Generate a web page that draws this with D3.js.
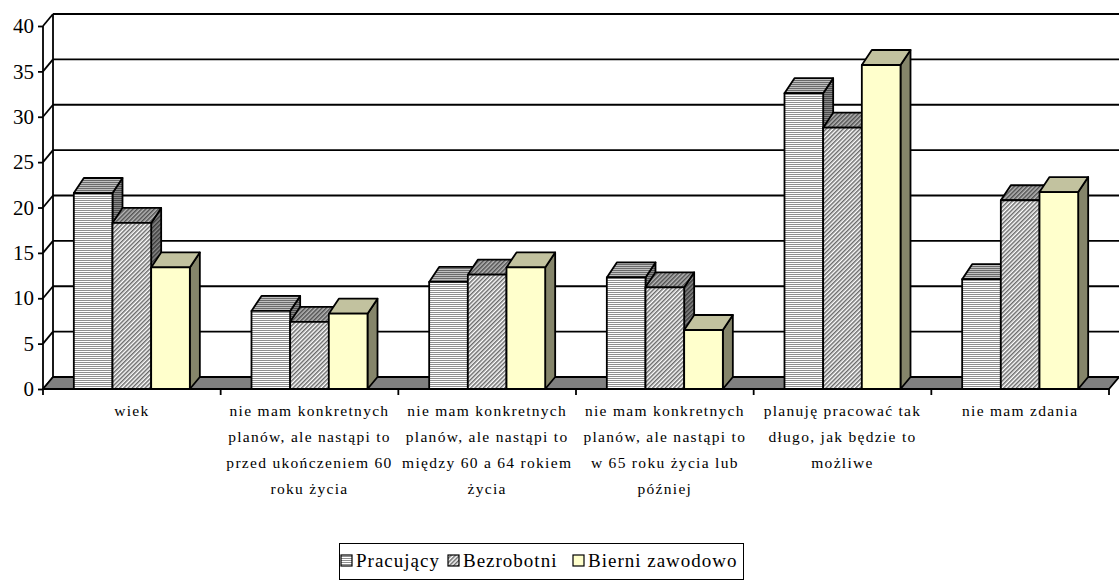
<!DOCTYPE html>
<html>
<head>
<meta charset="utf-8">
<script src="https://cdn.jsdelivr.net/npm/d3@7"></script>
<style>
  html, body { margin: 0; padding: 0; background: #fff; }
  svg { display: block; }
  svg text { font-family: "Liberation Serif", "DejaVu Serif", serif; }
</style>
</head>
<body>
<svg id="chart" width="1119" height="582"></svg>
<script>
// Category labels (explicit line breaks)
const categories = [
  "wiek",
  "nie mam konkretnych\nplanów, ale nastąpi to\nprzed ukończeniem 60\nroku życia",
  "nie mam konkretnych\nplanów, ale nastąpi to\nmiędzy 60 a 64 rokiem\nżycia",
  "nie mam konkretnych\nplanów, ale nastąpi to\nw 65 roku życia lub\npóźniej",
  "planuję pracować tak\ndługo, jak będzie to\nmożliwe",
  "nie mam zdania"
];
const seriesNames = ["Pracujący", "Bezrobotni", "Bierni zawodowo"];
const pracujacy  = [21.6, 8.6, 11.8, 12.3, 32.6, 12.1];
const bezrobotni = [18.3, 7.4, 12.6, 11.2, 28.8, 20.8];
const bierni     = [13.4, 8.3, 13.4, 6.5, 35.7, 21.7];
const yTicks = [0, 5, 10, 15, 20, 25, 30, 35, 40];

const seriesValues = [pracujacy, bezrobotni, bierni];
const serif = "'Liberation Serif', 'DejaVu Serif', serif";

const svg = d3.select("#chart");
const defs = svg.append("defs");

// Plot frame
const plotL = 43, plotR = 1109, plotB = 389, plotT = 26;
const wallDX = 10, wallDY = -12;   // depth of back wall / floor
const barDX = 10, barDY = -15;     // depth of the bars

const y = d3.scaleLinear().domain([0, 40]).range([plotB, plotT]);
const x0 = d3.scaleBand().domain(categories).range([plotL, plotR])
  .paddingInner(0.347).paddingOuter(0.1735);
const x1 = d3.scaleBand().domain(seriesNames).range([0, x0.bandwidth()]);

// ---- fill patterns ----
function stripePattern(id, bg, fg) {
  const p = defs.append("pattern").attr("id", id)
    .attr("patternUnits", "userSpaceOnUse").attr("width", 4).attr("height", 2);
  p.append("rect").attr("width", 4).attr("height", 2).attr("fill", bg);
  p.append("rect").attr("width", 4).attr("height", 1).attr("fill", fg);
}
function hatchPattern(id, bg, fg) {
  const p = defs.append("pattern").attr("id", id)
    .attr("patternUnits", "userSpaceOnUse").attr("width", 3).attr("height", 3)
    .attr("patternTransform", "rotate(45)");
  p.append("rect").attr("width", 3).attr("height", 3).attr("fill", bg);
  p.append("rect").attr("width", 1.5).attr("height", 3).attr("fill", fg);
}
stripePattern("p-front", "#ffffff", "#8f8f8f");
stripePattern("p-top", "#c0c0c0", "#6a6a6a");
stripePattern("p-side", "#8a8a8a", "#4a4a4a");
hatchPattern("b-front", "#ffffff", "#6a6a6a");
hatchPattern("b-top", "#b8b8b8", "#505050");
hatchPattern("b-side", "#8a8a8a", "#3a3a3a");

const faceFills = [
  { front: "url(#p-front)", top: "url(#p-top)", side: "url(#p-side)" },
  { front: "url(#b-front)", top: "url(#b-top)", side: "url(#b-side)" },
  { front: "#ffffcc", top: "#c2c29f", side: "#85856a" }
];

const lw = 1.8;

// ---- back wall gridlines ----
const grid = svg.append("g").attr("stroke", "#000").attr("stroke-width", lw).attr("fill", "none");
yTicks.filter(v => v > 0).forEach(v => {
  grid.append("line")
    .attr("x1", plotL + wallDX).attr("x2", 1121)
    .attr("y1", y(v) + wallDY).attr("y2", y(v) + wallDY);
});
// side wall: back axis and tick diagonals
grid.append("line")
  .attr("x1", plotL + wallDX).attr("x2", plotL + wallDX)
  .attr("y1", y(0) + wallDY).attr("y2", y(40) + wallDY);
yTicks.forEach(v => {
  grid.append("line")
    .attr("x1", plotL).attr("y1", y(v))
    .attr("x2", plotL + wallDX).attr("y2", y(v) + wallDY);
});

// ---- floor ----
svg.append("path")
  .attr("d", `M${plotL},${plotB} L${plotR},${plotB} L${plotR + wallDX},${plotB + wallDY} L${plotL + wallDX},${plotB + wallDY} Z`)
  .attr("fill", "#808080").attr("stroke", "#000").attr("stroke-width", lw).attr("stroke-linejoin", "round");

// ---- y axis ----
const yAxis = d3.axisLeft(y).tickValues(yTicks).tickSize(5).tickPadding(4);
const ya = svg.append("g").attr("transform", `translate(${plotL},0)`).call(yAxis);
ya.attr("font-family", null).attr("font-size", null);
ya.select(".domain").attr("stroke", "#000").attr("stroke-width", lw).attr("d", `M0,${y(40)}V${y(0)}`);
ya.selectAll(".tick line").attr("stroke", "#000").attr("stroke-width", lw);
ya.selectAll(".tick text").attr("fill", "#000")
  .style("font-family", serif).style("font-size", "21px");

// ---- bars ----
const groups = svg.append("g").selectAll("g")
  .data(categories).join("g")
  .attr("transform", d => `translate(${x0(d)},0)`);

groups.each(function (cat, ci) {
  const g = d3.select(this);
  seriesNames.forEach((s, si) => {
    const v = seriesValues[si][ci];
    const bx0 = x1(s), bx1 = x1(s) + x1.bandwidth();
    const yt = y(v), yb = y(0);
    const f = faceFills[si];
    const bar = g.append("g").attr("stroke", "#000").attr("stroke-width", lw).attr("stroke-linejoin", "round");
    // side
    bar.append("path")
      .attr("d", `M${bx1},${yt} L${bx1 + barDX},${yt + barDY} L${bx1 + barDX},${yb + wallDY} L${bx1},${yb} Z`)
      .attr("fill", f.side);
    // top
    bar.append("path")
      .attr("d", `M${bx0},${yt} L${bx0 + barDX},${yt + barDY} L${bx1 + barDX},${yt + barDY} L${bx1},${yt} Z`)
      .attr("fill", f.top);
    // front
    bar.append("rect")
      .attr("x", bx0).attr("y", yt).attr("width", bx1 - bx0).attr("height", yb - yt)
      .attr("fill", f.front);
  });
});

// ---- x axis (front edge) and category ticks ----
const xa = svg.append("g").attr("stroke", "#000").attr("stroke-width", lw);
xa.append("line").attr("x1", plotL).attr("x2", plotR).attr("y1", plotB).attr("y2", plotB);
const step = x0.step();
d3.range(categories.length + 1).forEach(i => {
  const xx = plotL + i * step;
  xa.append("line").attr("x1", xx).attr("x2", xx).attr("y1", plotB).attr("y2", plotB + 6);
});

// category labels
const labels = svg.append("g").selectAll("text")
  .data(categories).join("text")
  .attr("text-anchor", "middle")
  .style("font-family", serif)
  .style("font-size", "15.5px")
  .style("letter-spacing", "1.3px")
  .attr("fill", "#000");
labels.each(function (d, i) {
  const t = d3.select(this);
  const cx = plotL + i * step + step / 2;
  d.split("\n").forEach((line, k) => {
    t.append("tspan").attr("x", cx).attr("y", 416 + k * 26).text(line);
  });
});

// ---- legend ----
const legend = svg.append("g");
legend.append("rect").attr("x", 339.5).attr("y", 543.5).attr("width", 404).attr("height", 36)
  .attr("fill", "#fff").attr("stroke", "#000").attr("stroke-width", 1);
const legendX = [341, 448, 573];
seriesNames.forEach((s, i) => {
  legend.append("rect").attr("x", legendX[i]).attr("y", 555).attr("width", 11).attr("height", 11)
    .attr("fill", faceFills[i].front).attr("stroke", "#000").attr("stroke-width", 1.2);
  legend.append("text").attr("x", legendX[i] + 15).attr("y", 567)
    .style("font-family", serif)
    .style("font-size", "19px").style("letter-spacing", "1px")
    .attr("fill", "#000").text(s);
});
</script>
</body>
</html>
